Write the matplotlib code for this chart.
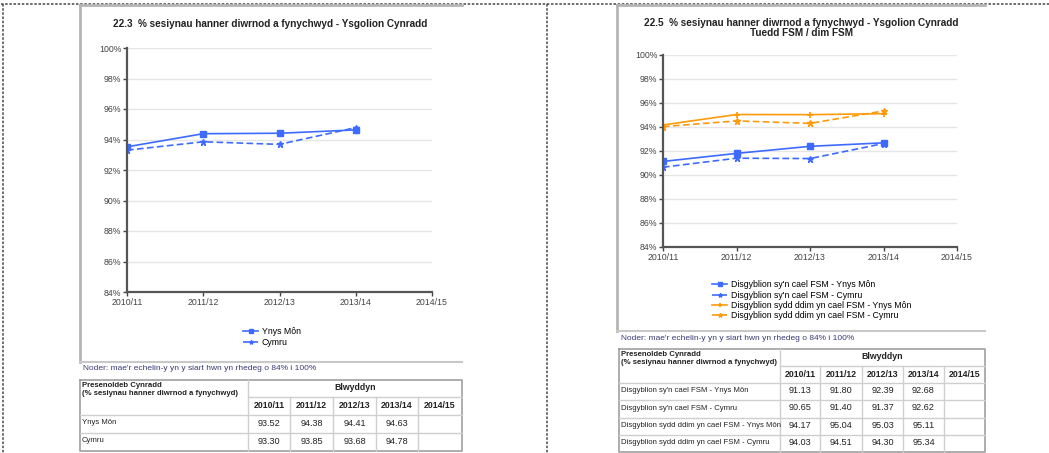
import matplotlib
matplotlib.use("Agg")
import matplotlib.pyplot as plt

plt.rcParams['font.family'] = ['Liberation Sans', 'DejaVu Sans']

years = ['2010/11', '2011/12', '2012/13', '2013/14', '2014/15']
mon = [93.52, 94.38, 94.41, 94.63]
cymru = [93.30, 93.85, 93.68, 94.78]
fsm_mon = [91.13, 91.80, 92.39, 92.68]
fsm_cymru = [90.65, 91.40, 91.37, 92.62]
nofsm_mon = [94.17, 95.04, 95.03, 95.11]
nofsm_cymru = [94.03, 94.51, 94.30, 95.34]

left_labels = ['Ynys Môn', 'Cymru']
right_labels = ["Disgyblion sy'n cael FSM - Ynys Môn",
                "Disgyblion sy'n cael FSM - Cymru",
                "Disgyblion sydd ddim yn cael FSM - Ynys Môn",
                "Disgyblion sydd ddim yn cael FSM - Cymru"]
title_left = '22.3  % sesiynau hanner diwrnod a fynychwyd - Ysgolion Cynradd'
title_right = '22.5  % sesiynau hanner diwrnod a fynychwyd - Ysgolion Cynradd\nTuedd FSM / dim FSM'
note = "Noder: mae'r echelin-y yn y siart hwn yn rhedeg o 84% i 100%"
tbl_head = 'Presenoldeb Cynradd\n(% sesiynau hanner diwrnod a fynychwyd)'

BLUE = '#3d6bff'
ORANGE = '#ff9a0a'

W, H = 1049, 453
fig = plt.figure(figsize=(W / 100, H / 100), dpi=100)

ov = fig.add_axes([0, 0, 1, 1])
ov.set_xlim(0, W)
ov.set_ylim(H, 0)
ov.axis('off')

ov.plot([1, W], [4, 4], color='#555555', lw=1.2, ls=(0, (1.5, 1)))
ov.plot([3, 3], [4, H], color='#555555', lw=1.2, ls=(0, (1.5, 1)))
ov.plot([547, 547], [4, H], color='#555555', lw=1.2, ls=(0, (1.5, 1)))

for (x0, x1, y0, y1) in [(80, 462, 5, 362), (617, 985, 5, 331)]:
    ov.plot([x0, x0], [y0, y1], color='#b5b5b5', lw=2)
    ov.plot([x0, x1], [y0, y0], color='#b5b5b5', lw=2)
    ov.plot([x0, x1], [y1, y1], color='#c8c8c8', lw=1.5)


def px_axes(x0, y0, x1, y1):
    return fig.add_axes([x0 / W, 1 - y1 / H, (x1 - x0) / W, (y1 - y0) / H])


def style_ax(ax):
    ax.set_xlim(0, 4)
    ax.set_ylim(84, 100)
    ax.set_yticks(range(84, 101, 2))
    ax.set_yticklabels([f'{v}%' for v in range(84, 101, 2)])
    ax.set_xticks(range(5))
    ax.set_xticklabels(years)
    ax.tick_params(labelsize=6.3, colors='#444444', length=3, width=1, pad=1)
    ax.grid(axis='y', color='#e6e6e6', lw=1)
    ax.set_axisbelow(True)
    for s in ['top', 'right']:
        ax.spines[s].set_visible(False)
    for s in ['left', 'bottom']:
        ax.spines[s].set_color('#555555')
        ax.spines[s].set_linewidth(1.6)


LEG = dict(frameon=False, handlelength=1.7, labelspacing=0.15, borderpad=0, handletextpad=0.4,
           markerscale=0.6, fontsize=6.3)
xs = range(4)

axL = px_axes(127, 48, 432, 292)
style_ax(axL)
axL.plot(xs, mon, color=BLUE, lw=1.2, marker='s', ms=4.5, label=left_labels[0])
axL.plot(xs, cymru, color=BLUE, lw=1.2, ls=(0, (4, 2)), marker='*', ms=5, label=left_labels[1])
axL.legend(loc='upper left', bbox_to_anchor=(239 / W, 1 - 323 / H), bbox_transform=fig.transFigure, **LEG)
fig.text(270 / W, 1 - 24 / H, title_left, ha='center', va='center', fontsize=7.2, fontweight='bold',
         color='#222222')

axR = px_axes(663, 55, 957, 247)
style_ax(axR)
axR.plot(xs, fsm_mon, color=BLUE, lw=1.2, marker='s', ms=4.5, label=right_labels[0])
axR.plot(xs, fsm_cymru, color=BLUE, lw=1.2, ls=(0, (4, 2)), marker='*', ms=5, label=right_labels[1])
axR.plot(xs, nofsm_mon, color=ORANGE, lw=1.2, marker='+', ms=5, mew=1.3, label=right_labels[2])
axR.plot(xs, nofsm_cymru, color=ORANGE, lw=1.2, ls=(0, (4, 2)), marker='*', ms=5, label=right_labels[3])
axR.legend(loc='upper left', bbox_to_anchor=(708 / W, 1 - 276 / H), bbox_transform=fig.transFigure, **LEG)
fig.text(801 / W, 1 - 28 / H, title_right, ha='center', va='center', fontsize=7.2, fontweight='bold',
         color='#222222', linespacing=1.05)

ov.text(83, 369, note, fontsize=6, color='#3a3a78', va='center', ha='left')
ov.text(621, 339, note, fontsize=6, color='#3a3a78', va='center', ha='left')


def draw_table(cols, rows, labels, data):
    gc = '#cfcfcf'
    x0, x1 = cols[0], cols[-1]
    y0, y1 = rows[0], rows[-1]
    ov.plot([x0, x1, x1, x0, x0], [y0, y0, y1, y1, y0], color='#a0a0a0', lw=1.2)
    ov.plot([cols[1], x1], [rows[1], rows[1]], color=gc, lw=1)
    for r in rows[2:-1]:
        ov.plot([x0, x1], [r, r], color=gc, lw=1)
    ov.plot([cols[1], cols[1]], [y0, y1], color=gc, lw=1)
    for c in cols[2:-1]:
        ov.plot([c, c], [rows[1], y1], color=gc, lw=1)
    ov.text(x0 + 2, y0 + 2, tbl_head, fontsize=5.6, fontweight='bold', va='top', ha='left',
            linespacing=1.2, color='#222222')
    ov.text((cols[1] + x1) / 2, (rows[0] + rows[1]) / 2 - 1, 'Blwyddyn', fontsize=6.3, fontweight='bold',
            ha='center', va='center', color='#222222')
    for i, yr in enumerate(years):
        ov.text((cols[i + 1] + cols[i + 2]) / 2, (rows[1] + rows[2]) / 2, yr, fontsize=6.3,
                fontweight='bold', ha='center', va='center', color='#222222')
    for j, (lab, vals) in enumerate(zip(labels, data)):
        yc = (rows[j + 2] + rows[j + 3]) / 2 - 1
        ov.text(x0 + 2, yc, lab, fontsize=5.6, ha='left', va='center', color='#222222')
        for i, v in enumerate(vals):
            ov.text((cols[i + 1] + cols[i + 2]) / 2, yc, f'{v:.2f}', fontsize=6.6, ha='center',
                    va='center', color='#222222')


draw_table([80, 248, 290, 333, 376, 418, 462], [380, 397, 415, 433, 451], left_labels, [mon, cymru])
draw_table([619, 780, 820, 862, 903, 944, 985], [349, 366, 383, 400, 418, 435, 452], right_labels,
           [fsm_mon, fsm_cymru, nofsm_mon, nofsm_cymru])

fig.savefig('out.png', dpi=100)
